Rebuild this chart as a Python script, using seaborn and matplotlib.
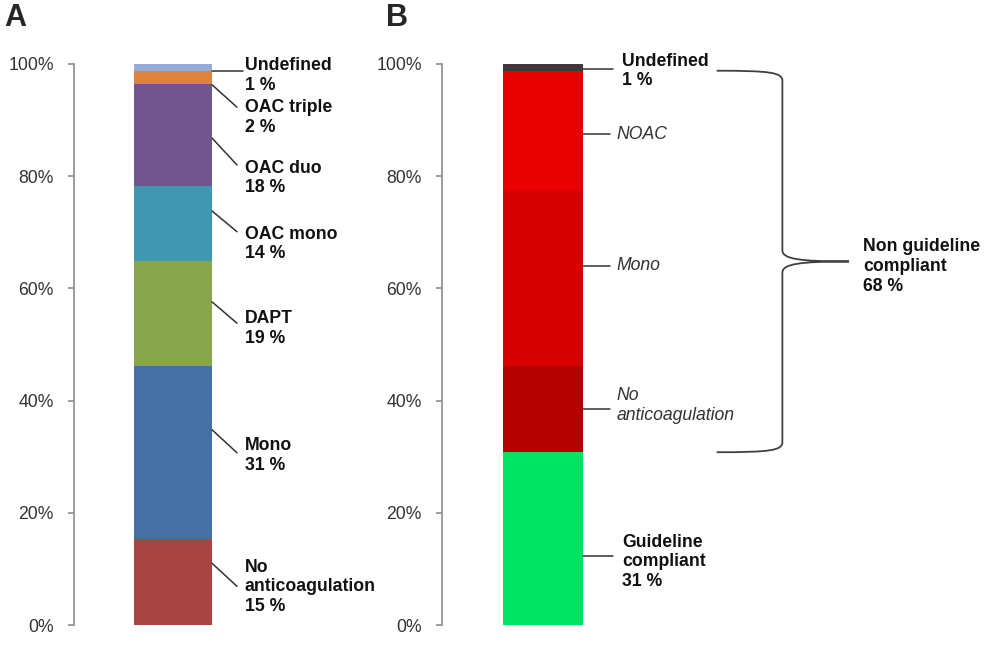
import pandas as pd
import matplotlib.pyplot as plt
import seaborn as sns
from matplotlib.path import Path
from matplotlib.patches import PathPatch

# Panel A: Behandlungskategorien (von unten nach oben)
cat_a = ['No anticoagulation', 'Mono', 'DAPT', 'OAC mono', 'OAC duo', 'OAC triple', 'Undefined']
val_a = [15.3, 30.9, 18.6, 13.5, 18.2, 2.3, 1.2]
lab_a = ['No\nanticoagulation\n15 %', 'Mono\n31 %', 'DAPT\n19 %', 'OAC mono\n14 %',
         'OAC duo\n18 %', 'OAC triple\n2 %', 'Undefined\n1 %']
col_a = ['#a84441', '#4470a6', '#89a54b', '#3f98b0', '#70568d', '#e0833a', '#95add6']

# Panel B: Leitlinienkonformität (von unten nach oben)
cat_b = ['Guideline compliant', 'No anticoagulation', 'Mono', 'NOAC', 'Undefined']
val_b = [30.8, 15.4, 31.2, 21.4, 1.2]
lab_b = ['Guideline\ncompliant\n31 %', 'No\nanticoagulation', 'Mono', 'NOAC', 'Undefined\n1 %']
col_b = ['#00e264', '#b50000', '#d90000', '#e90000', '#3a3a3a']
bold_b = [True, False, False, False, True]
brace_label = 'Non guideline\ncompliant\n68 %'

# Position der Beschriftungen (Layout, in % der y-Achse)
line_a_start = [11.0, 34.8, 57.6, 73.8, 86.8, 96.3, 98.75]
line_a_end = [6.9, 30.7, 53.8, 70.1, 82.0, 92.3, 98.75]
text_a_y = [6.8, 30.2, 52.9, 67.9, 79.7, 90.5, 98.0]
line_b_y = [12.3, 38.5, 64.0, 87.5, 99.1]
text_b_y = [11.3, 39.1, 64.0, 87.5, 98.75]

sns.set_style('white')
plt.rcParams['font.family'] = ['Liberation Sans', 'DejaVu Sans']

FS = 12.7
LS = 1.2
GRAY = '#8c8c8c'

fig = plt.figure(figsize=(9.92, 6.45), dpi=100)
ax_a = fig.add_axes([74 / 992, 20 / 645, 198 / 992, 561 / 645])
ax_b = fig.add_axes([442 / 992, 20 / 645, 202 / 992, 561 / 645])


def stacked_bar(ax, cats, vals, cols):
    bottom = 0
    for c, v, col in zip(cats, vals, cols):
        df = pd.DataFrame({'grp': [''], 'val': [v]})
        sns.barplot(data=df, x='grp', y='val', color=col, saturation=1, width=0.8,
                    errorbar=None, bottom=bottom, linewidth=0, ax=ax)
        bottom += v


def style_axis(ax, half):
    ax.set_xlim(-half, half)
    ax.set_ylim(0, 100)
    ax.set_xlabel('')
    ax.set_ylabel('')
    ax.set_xticks([])
    ax.set_yticks(range(0, 101, 20))
    ax.set_yticklabels([f'{t}%' for t in range(0, 101, 20)])
    for s in ['top', 'right', 'bottom']:
        ax.spines[s].set_visible(False)
    ax.spines['left'].set_color(GRAY)
    ax.spines['left'].set_linewidth(1.2)
    ax.tick_params(axis='y', left=True, length=4.5, width=1.2, color=GRAY,
                   labelsize=FS, labelcolor='#333333', pad=10)


stacked_bar(ax_a, cat_a, val_a, col_a)
style_axis(ax_a, 1.015)
stacked_bar(ax_b, cat_b, val_b, col_b)
style_axis(ax_b, 1.0)

# Beschriftungen Panel A
for i, lab in enumerate(lab_a):
    x_end = 0.72 if cat_a[i] == 'Undefined' else 0.656
    ax_a.plot([0.4, x_end], [line_a_start[i], line_a_end[i]], color='#333333', lw=1.1,
              clip_on=False)
    ax_a.text(0.738, text_a_y[i], lab, fontsize=FS, fontweight='bold', va='center',
              ha='left', linespacing=LS, color='#111111', clip_on=False)

# Beschriftungen Panel B
for i, lab in enumerate(lab_b):
    x_end = 0.69 if bold_b[i] else 0.66
    x_txt = 0.78 if bold_b[i] else 0.73
    ax_b.plot([0.4, x_end], [line_b_y[i], line_b_y[i]], color='#333333', lw=1.1, clip_on=False)
    ax_b.text(x_txt, text_b_y[i], lab, fontsize=FS, va='center', ha='left', linespacing=LS,
              fontweight='bold' if bold_b[i] else 'normal',
              fontstyle='normal' if bold_b[i] else 'italic',
              color='#111111' if bold_b[i] else '#333333', clip_on=False)

# geschweifte Klammer für "Non guideline compliant"
bot = val_b[0]
top = sum(val_b[:4])
mid = (top + bot) / 2
x0, xv, xt = 1.72, 2.37, 3.03
verts = [(x0, top), (2.25, top), (xv, top - 0.3), (xv, top - 1.8),
         (xv, mid + 2.0),
         (xv, mid + 0.4), (2.55, mid), (xt, mid),
         (2.55, mid), (xv, mid - 0.4), (xv, mid - 2.0),
         (xv, bot + 1.8),
         (xv, bot + 0.3), (2.25, bot), (x0, bot)]
codes = [Path.MOVETO, Path.CURVE4, Path.CURVE4, Path.CURVE4,
         Path.LINETO,
         Path.CURVE4, Path.CURVE4, Path.CURVE4,
         Path.CURVE4, Path.CURVE4, Path.CURVE4,
         Path.LINETO,
         Path.CURVE4, Path.CURVE4, Path.CURVE4]
ax_b.add_patch(PathPatch(Path(verts, codes), facecolor='none', edgecolor='#404040', lw=1.3,
                         clip_on=False))
ax_b.text(3.17, mid - 0.9, brace_label, fontsize=FS, fontweight='bold', va='center',
          ha='left', linespacing=LS, color='#111111', clip_on=False)

fig.text(4 / 992, 1 - 3 / 645, 'A', fontsize=22, fontweight='bold', va='top', ha='left')
fig.text(386 / 992, 1 - 3 / 645, 'B', fontsize=22, fontweight='bold', va='top', ha='left')

plt.savefig('out.png', dpi=100)
